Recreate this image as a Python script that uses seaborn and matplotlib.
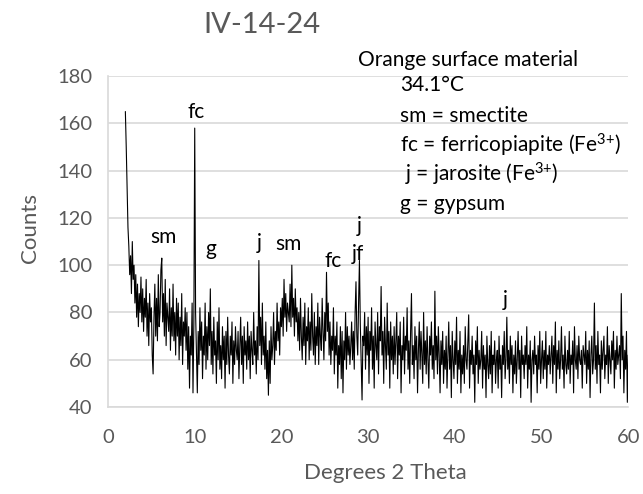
import numpy as np
import pandas as pd
import matplotlib
matplotlib.use("Agg")
import matplotlib.pyplot as plt
import seaborn as sns

# XRD pattern, 0.1 degree steps from 2.0 to 60.0
two_theta_start = 2.0
two_theta_step = 0.1
counts = [
    165, 150, 132, 116, 108, 96, 104, 88, 110, 94,    # 2
    100, 84, 96, 78, 92, 74, 88, 80, 95, 76,          # 3
    90, 72, 86, 78, 94, 70, 84, 66, 88, 76,           # 4
    82, 62, 54, 78, 92, 70, 86, 68, 96, 74,           # 5
    80, 98, 103, 76, 88, 70, 94, 66, 84, 78,          # 6
    72, 90, 64, 82, 70, 92, 68, 80, 62, 86,           # 7
    70, 84, 60, 78, 66, 88, 58, 76, 70, 82,           # 8
    64, 80, 56, 74, 48, 70, 62, 84, 46, 75,           # 9
    158, 80, 62, 46, 72, 58, 82, 64, 76, 52,          # 10
    70, 62, 84, 56, 74, 60, 80, 66, 90, 58,           # 11
    72, 54, 78, 62, 68, 50, 76, 60, 82, 56,           # 12
    66, 52, 74, 60, 70, 48, 72, 58, 78, 62,           # 13
    54, 70, 62, 76, 50, 68, 58, 74, 64, 60,           # 14
    72, 52, 66, 78, 58, 70, 50, 74, 62, 68,           # 15
    56, 76, 60, 70, 52, 72, 64, 58, 80, 62,           # 16
    68, 54, 74, 60, 102, 66, 78, 58, 84, 62,          # 17
    70, 56, 76, 52, 64, 45, 68, 50, 74, 60,           # 18
    66, 80, 58, 72, 64, 84, 68, 76, 62, 82,           # 19
    74, 86, 70, 94, 78, 88, 72, 84, 80, 76,           # 20
    92, 74, 100, 78, 86, 70, 90, 76, 82, 68,          # 21
    80, 64, 86, 70, 60, 78, 66, 84, 58, 74,           # 22
    68, 82, 60, 76, 64, 88, 70, 62, 80, 58,           # 23
    74, 66, 84, 58, 78, 70, 64, 86, 72, 60,           # 24
    80, 68, 97, 72, 84, 62, 76, 58, 70, 64,           # 25
    82, 54, 70, 62, 76, 48, 66, 58, 74, 52,           # 26
    72, 46, 68, 60, 80, 56, 74, 62, 70, 58,           # 27
    66, 76, 60, 72, 56, 80, 93, 70, 62, 84,           # 28
    102, 75, 58, 43, 70, 66, 80, 56, 74, 62,          # 29
    78, 50, 72, 64, 82, 56, 70, 48, 76, 66,           # 30
    60, 80, 54, 74, 68, 91, 62, 72, 50, 78,           # 31
    66, 56, 84, 62, 72, 48, 76, 60, 70, 54,           # 32
    74, 58, 68, 80, 52, 70, 62, 76, 46, 66,           # 33
    60, 78, 54, 70, 64, 82, 56, 68, 50, 72,           # 34
    88, 58, 66, 52, 74, 60, 70, 46, 64, 76,           # 35
    56, 72, 62, 50, 80, 58, 68, 54, 74, 60,           # 36
    48, 70, 62, 76, 56, 66, 52, 89, 60, 70,           # 37
    54, 74, 62, 46, 68, 58, 72, 50, 64, 56,           # 38
    70, 48, 62, 76, 56, 66, 44, 72, 60, 52,           # 39
    68, 58, 78, 50, 64, 56, 72, 46, 62, 54,           # 40
    66, 50, 74, 60, 56, 68, 79, 48, 64, 58,           # 41
    70, 54, 62, 42, 68, 58, 74, 50, 64, 56,           # 42
    60, 72, 48, 66, 56, 62, 44, 70, 58, 52,           # 43
    66, 54, 72, 46, 62, 58, 68, 50, 60, 64,           # 44
    48, 70, 56, 62, 44, 66, 58, 72, 52, 60,           # 45
    78, 56, 64, 50, 70, 58, 66, 46, 62, 54,           # 46
    68, 50, 60, 72, 56, 64, 44, 70, 58, 62,           # 47
    52, 66, 58, 74, 48, 62, 56, 68, 42, 60,           # 48
    64, 54, 70, 58, 62, 46, 66, 56, 72, 50,           # 49
    60, 68, 52, 64, 56, 72, 48, 62, 58, 66,           # 50
    54, 62, 70, 50, 66, 58, 76, 46, 64, 56,           # 51
    68, 52, 60, 74, 56, 62, 48, 70, 58, 54,           # 52
    64, 56, 72, 50, 62, 58, 68, 46, 74, 60,           # 53
    56, 66, 52, 70, 60, 58, 64, 48, 66, 62,           # 54
    58, 72, 50, 64, 56, 68, 44, 62, 70, 54,           # 55
    60, 84, 56, 66, 50, 72, 58, 62, 46, 68,           # 56
    56, 64, 70, 52, 62, 58, 74, 50, 66, 60,           # 57
    54, 68, 60, 72, 48, 64, 56, 70, 58, 62,           # 58
    66, 52, 88, 60, 70, 46, 64, 56, 72, 42,           # 59
    62,                                               # 60
]
two_theta = two_theta_start + two_theta_step * np.arange(len(counts))

# peak labels: (text, 2theta, counts)
peak_labels = ["sm", "fc", "g", "j", "sm", "fc", "jf", "j", "j"]
peak_x = [6.35, 10.15, 11.9, 17.4, 20.8, 26.0, 28.85, 28.95, 45.8]
peak_y = [111.9, 164.8, 106.9, 109.4, 109.0, 101.8, 104.7, 116.6, 85.3]

legend_lines = ["34.1°C", "sm = smectite", "fc = ferricopiapite (Fe$^{3{+}}$)",
                " j = jarosite (Fe$^{3{+}}$)", "g = gypsum"]
legend_y = [176.2, 163.0, 150.8, 138.6, 125.9]

x_ticks = [0, 10, 20, 30, 40, 50, 60]
y_ticks = [40, 60, 80, 100, 120, 140, 160, 180]

sns.set_theme(style="white")
plt.rcParams['font.family'] = ['Lato', 'DejaVu Sans']
plt.rcParams['mathtext.fontset'] = 'custom'
plt.rcParams['mathtext.rm'] = 'Lato'
plt.rcParams['mathtext.default'] = 'regular'

grey = '#595959'
df = pd.DataFrame({'two_theta': two_theta, 'counts': counts})

fig = plt.figure(figsize=(6.43, 4.94), dpi=100)
ax = fig.add_axes([0.168, 0.176, 0.809, 0.670])
sns.lineplot(data=df, x='two_theta', y='counts', ax=ax, color='black',
             linewidth=0.8, estimator=None)

ax.set_xlim(0, 60)
ax.set_ylim(40, 180)
ax.set_xticks(x_ticks)
ax.set_yticks(y_ticks)
ax.tick_params(axis='both', length=0, labelsize=14.5, labelcolor=grey)
ax.tick_params(axis='x', pad=16)
ax.tick_params(axis='y', pad=11)
ax.yaxis.grid(True, color='#d9d9d9', linewidth=1.2)
ax.xaxis.grid(False)
for side in ['top', 'right']:
    ax.spines[side].set_visible(False)
for side in ['left', 'bottom']:
    ax.spines[side].set_color('#d9d9d9')
    ax.spines[side].set_linewidth(1.2)
ax.set_axisbelow(True)

ax.set_xlabel('Degrees 2 Theta', fontsize=16, color=grey, va='center')
ax.set_ylabel('Counts', fontsize=16, color=grey, va='center')
ax.xaxis.set_label_coords(0.533, -0.199)
ax.yaxis.set_label_coords(-0.15, 0.541)

fig.text(0.408, 0.950, 'IV-14-24', fontsize=21, color=grey, ha='center', va='center')

for lab, px, py in zip(peak_labels, peak_x, peak_y):
    ax.text(px, py, lab, fontsize=15, color='black', ha='center', va='center')

ax.text(28.85, 186.8, 'Orange surface material', fontsize=15, color='black',
        ha='left', va='center', clip_on=False)
for line, ly in zip(legend_lines, legend_y):
    ax.text(33.7, ly, line, fontsize=15, color='black', ha='left', va='center')

fig.savefig('out.png', dpi=100)
